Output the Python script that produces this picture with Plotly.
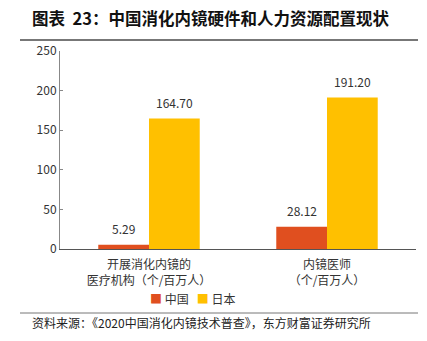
import plotly.graph_objects as go

categories = ["开展消化内镜的<br>医疗机构（个/百万人）", "内镜医师<br>（个/百万人）"]
series_names = ["中国", "日本"]
china = [5.29, 28.12]
japan = [164.70, 191.20]
y_ticks = [0, 50, 100, 150, 200, 250]
colors = ["#E04F1F", "#FFC000"]

font = "Noto Sans CJK SC"
fig = go.Figure()
for name, vals, c in zip(series_names, [china, japan], colors):
    fig.add_trace(go.Bar(x=categories, y=vals, name=name, marker_color=c,
                         marker_line_width=0))

# value labels
for off, vals in zip([-0.143, 0.143], [china, japan]):
    for i, v in enumerate(vals):
        fig.add_annotation(x=i + off, y=v, text=f"{v:.2f}", showarrow=False,
                           yanchor="bottom", yshift=6, xref="x", yref="y",
                           font=dict(family=font, size=12, color="#333"))

# compact legend drawn as text
legend_text = "   ".join(
    f"<span style='color:{c}'>■</span> {n}" for n, c in zip(series_names, colors))
fig.add_annotation(text=legend_text, xref="paper", yref="paper",
                   x=(193 - 60) / 356, y=(249 - 296) / 198, xanchor="center", yanchor="top",
                   yshift=7, borderpad=0,
                   showarrow=False, font=dict(family=font, size=12, color="#333"))

fig.update_layout(
    width=427, height=341,
    margin=dict(l=60, r=11, t=51, b=92),
    plot_bgcolor="white", paper_bgcolor="white",
    barmode="group", bargap=0.43, bargroupgap=0,
    font=dict(family=font, size=12, color="#333"),
    showlegend=False,
    yaxis=dict(range=[0, 250], tickvals=y_ticks, showgrid=False, showline=True,
               linecolor="#888", linewidth=1, ticks="inside", ticklen=3,
               tickcolor="#888", zeroline=False, tickfont=dict(size=12, color="#333")),
    xaxis=dict(showline=True, linecolor="#555", linewidth=1, ticks="",
               ticklabelstandoff=5, tickfont=dict(size=12, color="#333")),
)

fig.add_annotation(text="<b>图表  23：中国消化内镜硬件和人力资源配置现状</b>", xref="paper", yref="paper",
                   x=(30 - 60) / 356, y=(249 - 18) / 198, xanchor="left", yanchor="middle",
                   showarrow=False, font=dict(family=font, size=16.5, color="#111"))
fig.add_annotation(text="资料来源：《2020中国消化内镜技术普查》，东方财富证券研究所", xref="paper", yref="paper",
                   x=(30 - 60) / 356, y=(249 - 322) / 198, xanchor="left", yanchor="middle",
                   showarrow=False, font=dict(family=font, size=12, color="#222"))
fig.add_shape(type="line", xref="paper", yref="paper", x0=(20 - 60) / 356, x1=(418 - 60) / 356,
              y0=(249 - 40) / 198, y1=(249 - 40) / 198, line=dict(color="#777", width=2))
fig.add_shape(type="line", xref="paper", yref="paper", x0=(20 - 60) / 356, x1=(418 - 60) / 356,
              y0=(249 - 313) / 198, y1=(249 - 313) / 198, line=dict(color="#777", width=1))

fig.write_html("out.html")
